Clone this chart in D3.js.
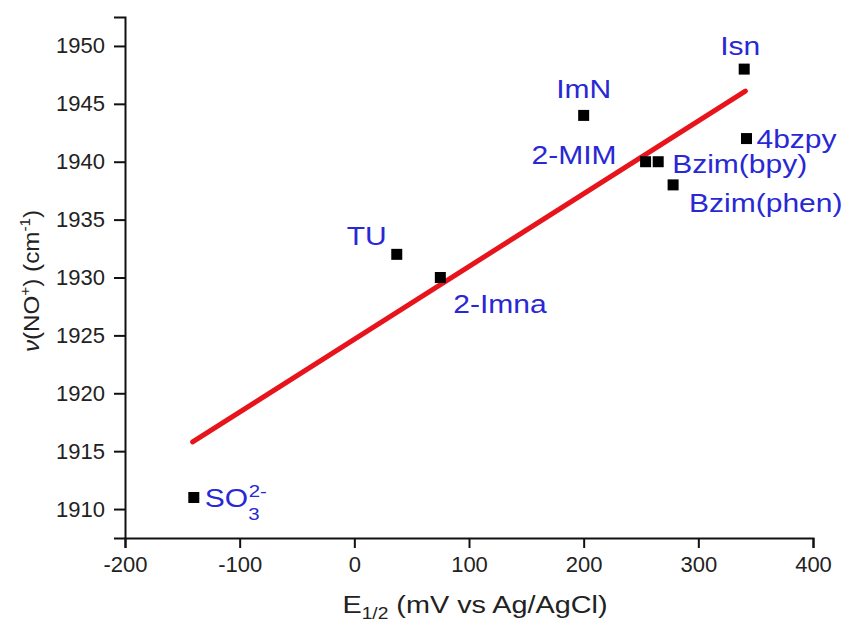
<!DOCTYPE html>
<html><head><meta charset="utf-8">
<script src="https://d3js.org/d3.v7.min.js"></script>
<style>body{margin:0;background:#fff;} text{font-family:Arial,"Liberation Sans",sans-serif;}</style>
</head><body>
<svg id="c" width="849" height="626"></svg>
<script>
const names = ["SO3", "TU", "2-Imna", "ImN", "2-MIM", "Bzim(bpy)", "Bzim(phen)", "Isn", "4bzpy"];
const xVals = [-140, 37, 75, 200, 254, 265, 278, 340, 342];
const yVals = [1911, 1932, 1930, 1944, 1940, 1940, 1938, 1948, 1942];
const fitX = [-141, 341];
const fitY = [1915.8, 1946.1];
const xTicks = [-200, -100, 0, 100, 200, 300, 400];
const yTicks = [1910, 1915, 1920, 1925, 1930, 1935, 1940, 1945, 1950];

const svg = d3.select("#c");
const L = 125, R = 813, T = 17, B = 538;
const x = d3.scaleLinear().domain([-200, 400]).range([L, R]);
const y = d3.scaleLinear().domain([1907.5, 1952.5]).range([B, T]);
const fmt = d => String(d);

const gx = svg.append("g").attr("transform", `translate(0,${B})`);
gx.call(d3.axisBottom(x).tickValues(d3.range(-200, 401, 50)).tickSize(6).tickFormat(""));
gx.call(d3.axisBottom(x).tickValues(xTicks).tickSize(10).tickFormat(fmt).tickPadding(8));
gx.selectAll("text").attr("font-size", 22).attr("fill", "#222");
const gy = svg.append("g").attr("transform", `translate(${L},0)`);
gy.call(d3.axisLeft(y).tickValues(d3.range(1907.5, 1952.6, 2.5)).tickSize(6).tickFormat(""));
gy.call(d3.axisLeft(y).tickValues(yTicks).tickSize(11).tickFormat(fmt).tickPadding(9));
gy.selectAll("text").attr("font-size", 22).attr("fill", "#222");
svg.selectAll(".domain").attr("stroke", "#111").attr("stroke-width", 2);
svg.selectAll(".tick line").attr("stroke", "#111").attr("stroke-width", 2);

svg.append("line")
  .attr("x1", x(fitX[0])).attr("y1", y(fitY[0]))
  .attr("x2", x(fitX[1])).attr("y2", y(fitY[1]))
  .attr("stroke", "#e8141c").attr("stroke-width", 5).attr("stroke-linecap", "round");

const pts = names.map((n, i) => ({n, x: xVals[i], y: yVals[i]}));
svg.selectAll("rect.pt").data(pts).join("rect").attr("class", "pt")
  .attr("x", d => x(d.x) - 5.5).attr("y", d => y(d.y) - 5.5)
  .attr("width", 11).attr("height", 11).attr("fill", "#000");

const blue = "#2828d4";
const SX = 1.2;
const lab = {
  "TU": {dx: -10, dy: -9, anchor: "end"},
  "2-Imna": {dx: 13, dy: 35, anchor: "start"},
  "ImN": {dx: 0, dy: -17, anchor: "middle"},
  "2-MIM": {dx: -29, dy: 2, anchor: "end"},
  "Bzim(bpy)": {dx: 14, dy: 11, anchor: "start"},
  "Bzim(phen)": {dx: 16, dy: 27, anchor: "start"},
  "Isn": {dx: -4, dy: -14, anchor: "middle"},
  "4bzpy": {dx: 10, dy: 9, anchor: "start"}
};
pts.forEach(d => {
  if (d.n === "SO3") {
    const g = svg.append("g").attr("transform", `translate(${x(d.x) + 11},${y(d.y) + 10}) scale(${SX},1)`);
    const t = g.append("text").attr("font-size", 25).attr("fill", blue);
    t.append("tspan").text("SO");
    t.append("tspan").attr("font-size", 17).attr("dy", 13).text("3");
    t.append("tspan").attr("font-size", 17).attr("dx", -9).attr("dy", -23).text("2-");
    return;
  }
  const o = lab[d.n];
  svg.append("g").attr("transform", `translate(${x(d.x) + o.dx},${y(d.y) + o.dy}) scale(${SX},1)`)
    .append("text").attr("text-anchor", o.anchor).attr("font-size", 25).attr("fill", blue).text(d.n);
});

const xg = svg.append("g").attr("transform", `translate(475,613) scale(1.2,1)`);
const xt = xg.append("text").attr("text-anchor", "middle").attr("font-size", 24).attr("fill", "#222");
xt.append("tspan").text("E");
xt.append("tspan").attr("font-size", 16).attr("dy", 6).text("1/2");
xt.append("tspan").attr("dy", -6).text(" (mV vs Ag/AgCl)");

const yg = svg.append("g").attr("transform", "translate(39,281) rotate(-90) scale(1.1,1)");
const yt = yg.append("text").attr("text-anchor", "middle").attr("font-size", 22).attr("fill", "#222");
yt.append("tspan").attr("font-style", "italic").text("ν");
yt.append("tspan").text("(NO");
yt.append("tspan").attr("font-size", 14).attr("dy", -9).text("+");
yt.append("tspan").attr("dy", 9).text(") (cm");
yt.append("tspan").attr("font-size", 14).attr("dy", -9).text("-1");
yt.append("tspan").attr("dy", 9).text(")");
</script>
</body></html>
